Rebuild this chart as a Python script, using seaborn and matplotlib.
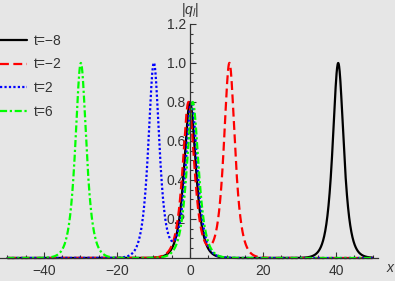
import numpy as np
import pandas as pd
import seaborn as sns
import matplotlib
import matplotlib.pyplot as plt
from matplotlib.ticker import FixedLocator

matplotlib.use('Agg')
sns.set_style('white')
plt.rcParams['font.family'] = ['Liberation Sans', 'DejaVu Sans']
plt.rcParams['mathtext.fontset'] = 'custom'
plt.rcParams['mathtext.it'] = 'Liberation Sans:italic'
plt.rcParams['mathtext.rm'] = 'Liberation Sans'

# Values: each curve is a big soliton plus a small one near x=0
labels = ['t=\u22128', 't=\u22122', 't=2', 't=6']
big_center = [40.6, 10.8, -9.9, -29.9]
big_amp = [1.0, 1.0, 1.0, 1.0]
big_width = [0.75, 0.75, 0.75, 0.75]
small_center = [0.0, -0.4, 0.4, 0.75]
small_amp = [0.8, 0.8, 0.8, 0.8]
small_width = [0.7, 0.7, 0.7, 0.7]

colors = ['black', '#ff0000', '#0000ff', '#00ff00']
styles = ['-', (0, (4, 2)), (0, (1, 1)), (0, (3.2, 1.2, 1, 1.2))]

x = np.linspace(-50, 50, 2001)
frames = []
for i, lab in enumerate(labels):
    q = (big_amp[i] / np.cosh(big_width[i] * (x - big_center[i]))
         + small_amp[i] / np.cosh(small_width[i] * (x - small_center[i])))
    frames.append(pd.DataFrame({'x': x, 'q': q, 't': lab}))
df = pd.concat(frames, ignore_index=True)

bg = '#e6e6e6'
ink = '#333333'
fs = 10
fig = plt.figure(figsize=(3.95, 2.81), dpi=100, facecolor=bg)
ax = fig.add_axes([0, 0, 1, 1], facecolor=bg)

for i, lab in enumerate(labels):
    sns.lineplot(data=df[df['t'] == lab], x='x', y='q', ax=ax, color=colors[i],
                 linestyle=styles[i], linewidth=1.6, label=lab, errorbar=None)

ax.set_xlim(-52.05, 56.16)
ax.set_ylim(-0.118, 1.323)
ax.set_xlabel('')
ax.set_ylabel('')

for s in ['top', 'right']:
    ax.spines[s].set_visible(False)
ax.spines['left'].set_position(('data', 0))
ax.spines['bottom'].set_position(('data', 0))
ax.spines['left'].set_bounds(0, 1.2)
ax.spines['bottom'].set_bounds(-52.05, 51.5)
for s in ['left', 'bottom']:
    ax.spines[s].set_color(ink)
    ax.spines[s].set_linewidth(0.9)

ax.xaxis.set_major_locator(FixedLocator([-40, -20, 0, 20, 40]))
ax.xaxis.set_minor_locator(FixedLocator(np.arange(-50, 51, 5)))
ax.yaxis.set_major_locator(FixedLocator([0.2, 0.4, 0.6, 0.8, 1.0, 1.2]))
ax.yaxis.set_minor_locator(FixedLocator(np.arange(0.05, 1.2, 0.05)))
ax.set_xticklabels(['\u221240', '\u221220', '0', '20', '40'])
ax.set_yticklabels(['0.2', '0.4', '0.6', '0.8', '1.0', '1.2'])
ax.tick_params(which='both', direction='in', bottom=True, left=True,
               colors=ink, labelcolor=ink, labelsize=fs, width=0.8)
ax.tick_params(which='major', length=4.5)
ax.tick_params(which='minor', length=2.3)
ax.tick_params(axis='y', pad=3)
ax.tick_params(axis='x', pad=4)

ax.annotate(r'$|q_l|$', xy=(0, 1.2), xytext=(0, 10), textcoords='offset points',
            ha='center', va='center', fontsize=fs, color=ink)
ax.annotate(r'$x$', xy=(51.5, 0), xytext=(9, -7), textcoords='offset points',
            ha='center', va='center', fontsize=fs, color=ink)

leg = ax.legend(loc='upper left', bbox_to_anchor=(0, 0.88), bbox_transform=fig.transFigure,
                frameon=False, fontsize=fs, borderpad=0, borderaxespad=0,
                handlelength=1.95, handletextpad=0.5, labelspacing=0.7)
for t in leg.get_texts():
    t.set_color(ink)

fig.savefig('out.png', dpi=100, facecolor=bg)
